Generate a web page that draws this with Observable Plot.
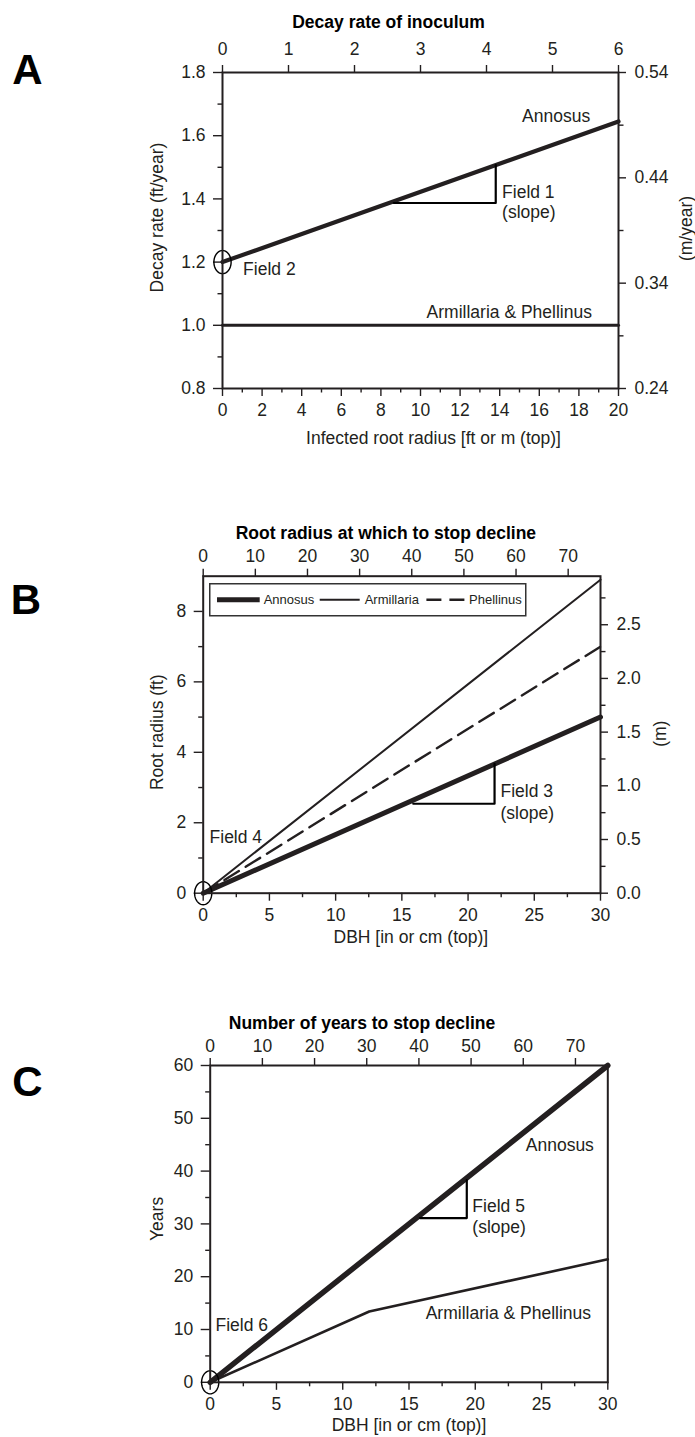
<!DOCTYPE html>
<html>
<head>
<meta charset="utf-8">
<script src="https://cdn.jsdelivr.net/npm/d3@7"></script>
<script src="https://cdn.jsdelivr.net/npm/@observablehq/plot@0.6"></script>
<style>
  html, body { margin: 0; padding: 0; background: #fff; }
  #chart { position: relative; width: 695px; height: 1437px; overflow: hidden; background: #fff; }
  #chart svg { display: block; }
  .legend { position: absolute; }
</style>
</head>
<body>
<div id="chart"></div>
<script>
// ---------- DATA ----------
// Panel A: decay rate of inoculum vs infected root radius
const A_x = [0, 20];
const A_annosus = [1.2, 1.645];
const A_armPhel = [1.0, 1.0];
const A_slopeX = [8.65, 13.8, 13.8];
const A_slopeY = [1.387, 1.387, 1.507];
const A_bottomTicks = [0, 2, 4, 6, 8, 10, 12, 14, 16, 18, 20];
const A_bottomMinor = [1, 3, 5, 7, 9, 11, 13, 15, 17, 19];
const A_leftTicks = [0.8, 1.0, 1.2, 1.4, 1.6, 1.8];
const A_leftMinor = [0.9, 1.1, 1.3, 1.5, 1.7];
const A_topTicks = [0, 1, 2, 3, 4, 5, 6];
const A_rightTicks = [0.24, 0.34, 0.44, 0.54];
const A_rightMinor = [0.29, 0.39, 0.49];
const A_factor = 0.3; // ft -> secondary units

// Panel B: root radius at which to stop decline vs DBH
const B_x = [0, 30];
const B_annosus = [0, 5.0];
const B_armillaria = [0, 8.9];
const B_phellinus = [0, 7.0];
const B_slopeX = [15.86, 22.0, 22.0];
const B_slopeY = [2.54, 2.54, 3.67];
const B_bottomTicks = [0, 5, 10, 15, 20, 25, 30];
const B_bottomMinor = [2.5, 7.5, 12.5, 17.5, 22.5, 27.5];
const B_leftTicks = [0, 2, 4, 6, 8];
const B_leftMinor = [1, 3, 5, 7];
const B_topTicks = [0, 10, 20, 30, 40, 50, 60, 70];
const B_rightTicks = [0, 0.5, 1.0, 1.5, 2.0, 2.5];
const B_rightMinor = [0.25, 0.75, 1.25, 1.75, 2.25, 2.75];
const B_cmPerIn = 2.54;
const B_mPerFt = 0.328;
const B_series = ["Annosus", "Armillaria", "Phellinus"];

// Panel C: number of years to stop decline vs DBH
const C_x = [0, 30];
const C_annosus = [0, 60];
const C_armPhelX = [0, 12, 30];
const C_armPhelY = [0, 13.4, 23.3];
const C_slopeX = [15.83, 19.36, 19.36];
const C_slopeY = [31.1, 31.1, 38.3];
const C_bottomTicks = [0, 5, 10, 15, 20, 25, 30];
const C_bottomMinor = [2.5, 7.5, 12.5, 17.5, 22.5, 27.5];
const C_leftTicks = [0, 10, 20, 30, 40, 50, 60];
const C_leftMinor = [5, 15, 25, 35, 45, 55];
const C_topTicks = [0, 10, 20, 30, 40, 50, 60, 70];
const C_cmPerIn = 2.54;

// ---------- HELPERS ----------
const ink = "#231f20";
const font = "'Liberation Sans', Arial, Helvetica, sans-serif";
const rows = (xs, ys) => xs.map((x, i) => ({x, y: ys[i]}));
const style = {fontFamily: font, fontSize: "17.5px", color: ink, background: "#fff", overflow: "visible"};
const txt = (s, o) => Plot.text([s], {text: d => d, fill: ink, fontSize: 17.5, lineAnchor: "middle", ...o});
const axisLabel = (s, o) => txt(s, {textAnchor: "middle", ...o});

// elliptical symbol for the "Field" origin markers
const ellipseSymbol = {
  draw(ctx, size) {
    const r = Math.sqrt(size / Math.PI), rx = r * 0.82, ry = r * 1.1, n = 48;
    for (let i = 0; i <= n; i++) {
      const a = (i / n) * 2 * Math.PI, px = rx * Math.cos(a), py = ry * Math.sin(a);
      if (i === 0) ctx.moveTo(px, py); else ctx.lineTo(px, py);
    }
    ctx.closePath();
  }
};

function axes({bottom, bottomMinor, left, leftMinor, leftFmt, top, topFmt, topPad = 6, right, rightMinor, rightFmt}) {
  const m = [];
  m.push(Plot.axisX({anchor: "bottom", ticks: bottom, tickSize: 8, tickPadding: 7, tickFormat: d => String(d), label: null, strokeWidth: 1.4}));
  m.push(Plot.axisX({anchor: "bottom", ticks: bottomMinor, tickSize: 4.5, tickFormat: () => "", label: null, strokeWidth: 1.4}));
  m.push(Plot.axisY({anchor: "left", ticks: left, tickSize: 9, tickPadding: 8, tickFormat: leftFmt, label: null, strokeWidth: 1.4}));
  m.push(Plot.axisY({anchor: "left", ticks: leftMinor, tickSize: 4.5, tickFormat: () => "", label: null, strokeWidth: 1.4}));
  if (top) m.push(Plot.axisX({anchor: "top", ticks: top, tickSize: 8, tickPadding: topPad, tickFormat: topFmt, label: null, strokeWidth: 1.4}));
  if (right) m.push(Plot.axisY({anchor: "right", ticks: right, tickSize: 7, tickPadding: 9, tickFormat: rightFmt, label: null, strokeWidth: 1.4}));
  if (rightMinor) m.push(Plot.axisY({anchor: "right", ticks: rightMinor, tickSize: 4.5, tickFormat: () => "", label: null, strokeWidth: 1.4}));
  return m;
}

const letter = (s, dx, dy) => Plot.text([s], {text: d => d, frameAnchor: "top-left", dx, dy, fontSize: 42, fontWeight: "bold", fill: "#000", textAnchor: "middle", lineAnchor: "middle"});
const title = (s, dx, dy) => Plot.text([s], {text: d => d, frameAnchor: "top", dx, dy, fontSize: 17.5, fontWeight: "bold", fill: "#000", textAnchor: "middle", lineAnchor: "middle"});

const chart = document.getElementById("chart");

// ---------- PANEL A ----------
const plotA = Plot.plot({
  width: 695, height: 470,
  marginTop: 72, marginBottom: 82, marginLeft: 222, marginRight: 77,
  x: {domain: [0, 20]}, y: {domain: [0.8, 1.8]},
  style,
  marks: [
    ...axes({
      bottom: A_bottomTicks, bottomMinor: A_bottomMinor,
      left: A_leftTicks, leftMinor: A_leftMinor, leftFmt: d => d.toFixed(1),
      top: A_topTicks.map(v => v / A_factor), topFmt: d => String(Math.round(d * A_factor)), topPad: 10,
      right: A_rightTicks.map(v => v / A_factor), rightMinor: A_rightMinor.map(v => v / A_factor),
      rightFmt: d => (d * A_factor).toFixed(2)
    }),
    Plot.line(rows(A_x, A_armPhel), {x: "x", y: "y", stroke: ink, strokeWidth: 3}),
    Plot.line(rows(A_x, A_annosus), {x: "x", y: "y", stroke: ink, strokeWidth: 4.2}),
    Plot.line(rows(A_slopeX, A_slopeY), {x: "x", y: "y", stroke: "#000", strokeWidth: 2.2}),
    Plot.dot([{x: A_x[0], y: A_annosus[0]}], {x: "x", y: "y", r: 10.5, symbol: ellipseSymbol, stroke: "#000", strokeWidth: 1.4, fill: "none"}),
    Plot.frame({stroke: ink, strokeWidth: 2}),
    txt("Annosus", {x: 18.57, y: 1.662, textAnchor: "end"}),
    txt("Field 1", {x: 14.12, y: 1.422, textAnchor: "start"}),
    txt("(slope)", {x: 14.12, y: 1.358, textAnchor: "start"}),
    txt("Field 2", {x: 1.04, y: 1.177, textAnchor: "start"}),
    txt("Armillaria & Phellinus", {x: 18.66, y: 1.042, textAnchor: "end"}),
    axisLabel("Infected root radius [ft or m (top)]", {frameAnchor: "bottom", dx: 13, dy: 50}),
    axisLabel("Decay rate (ft/year)", {frameAnchor: "left", dx: -65, dy: -13, rotate: -90}),
    axisLabel("(m/year)", {frameAnchor: "right", dx: 68, dy: -2, rotate: -90}),
    title("Decay rate of inoculum", -32, -50),
    letter("A", -195, -2)
  ]
});
chart.appendChild(plotA);

// ---------- PANEL B ----------
const plotB = Plot.plot({
  width: 695, height: 480,
  marginTop: 105.7, marginBottom: 57.3, marginLeft: 202.7, marginRight: 95,
  x: {domain: [0, 30]}, y: {domain: [0, 9]},
  style,
  marks: [
    ...axes({
      bottom: B_bottomTicks, bottomMinor: B_bottomMinor,
      left: B_leftTicks, leftMinor: B_leftMinor, leftFmt: d => String(d),
      top: B_topTicks.map(v => v / B_cmPerIn), topFmt: d => String(Math.round(d * B_cmPerIn)),
      right: B_rightTicks.map(v => v / B_mPerFt), rightMinor: B_rightMinor.map(v => v / B_mPerFt),
      rightFmt: d => (d * B_mPerFt).toFixed(1)
    }),
    Plot.line(rows(B_x, B_armillaria), {x: "x", y: "y", stroke: ink, strokeWidth: 2}),
    Plot.line(rows(B_x, B_phellinus), {x: "x", y: "y", stroke: ink, strokeWidth: 2.4, strokeDasharray: "17,8"}),
    Plot.line(rows(B_x, B_annosus), {x: "x", y: "y", stroke: ink, strokeWidth: 5}),
    Plot.line(rows(B_slopeX, B_slopeY), {x: "x", y: "y", stroke: "#000", strokeWidth: 2.2}),
    Plot.dot([{x: 0, y: 0}], {x: "x", y: "y", r: 10.5, symbol: ellipseSymbol, stroke: "#000", strokeWidth: 1.4, fill: "none"}),
    Plot.frame({stroke: ink, strokeWidth: 2}),
    txt("Field 4", {x: 0.48, y: 1.59, textAnchor: "start"}),
    txt("Field 3", {x: 22.45, y: 2.89, textAnchor: "start"}),
    txt("(slope)", {x: 22.45, y: 2.28, textAnchor: "start"}),
    axisLabel("DBH [in or cm (top)]", {frameAnchor: "bottom", dx: 9, dy: 44}),
    axisLabel("Root radius (ft)", {frameAnchor: "left", dx: -46, dy: -2.5, rotate: -90}),
    axisLabel("(m)", {frameAnchor: "right", dx: 60, dy: -1, rotate: -90}),
    title("Root radius at which to stop decline", -16, -42.4),
    letter("B", -177.2, 24.3)
  ]
});
chart.appendChild(plotB);

// legend for panel B (inside the frame, top-left)
const legendStyles = {
  Annosus: {w: 5, dash: null, x0: 8, x1: 50.7, tx: 54.7},
  Armillaria: {w: 2, dash: null, x0: 110.7, x1: 150.7, tx: 155.7},
  Phellinus: {w: 2.4, dash: "15,8", x0: 217.4, x1: 255.7, tx: 260}
};
const lg = d3.create("svg").attr("class", "legend").attr("width", 318).attr("height", 34)
  .style("left", "209.3px").style("top", (470 + 113.3) + "px");
lg.append("rect").attr("x", 0.75).attr("y", 0.75).attr("width", 316).attr("height", 32)
  .attr("fill", "#fff").attr("stroke", "#333").attr("stroke-width", 1.5);
for (const s of B_series) {
  const st = legendStyles[s];
  lg.append("line").attr("x1", st.x0).attr("x2", st.x1).attr("y1", 16.7).attr("y2", 16.7)
    .attr("stroke", ink).attr("stroke-width", st.w).attr("stroke-dasharray", st.dash);
  lg.append("text").attr("x", st.tx).attr("y", 16.7).attr("dy", "0.35em")
    .attr("font-family", font).attr("font-size", 13).attr("fill", ink).text(s);
}
chart.appendChild(lg.node());

// ---------- PANEL C ----------
const plotC = Plot.plot({
  width: 695, height: 487,
  marginTop: 115, marginBottom: 55.2, marginLeft: 209.7, marginRight: 87.7,
  x: {domain: [0, 30]}, y: {domain: [0, 60]},
  style,
  marks: [
    ...axes({
      bottom: C_bottomTicks, bottomMinor: C_bottomMinor,
      left: C_leftTicks, leftMinor: C_leftMinor, leftFmt: d => String(d),
      top: C_topTicks.map(v => v / C_cmPerIn), topFmt: d => String(Math.round(d * C_cmPerIn))
    }),
    Plot.line(rows(C_armPhelX, C_armPhelY), {x: "x", y: "y", stroke: ink, strokeWidth: 2.6}),
    Plot.line(rows(C_x, C_annosus), {x: "x", y: "y", stroke: ink, strokeWidth: 5.5}),
    Plot.line(rows(C_slopeX, C_slopeY), {x: "x", y: "y", stroke: "#000", strokeWidth: 2.2}),
    Plot.dot([{x: 0, y: 0}], {x: "x", y: "y", r: 10.5, symbol: ellipseSymbol, stroke: "#000", strokeWidth: 1.4, fill: "none"}),
    Plot.frame({stroke: ink, strokeWidth: 2}),
    txt("Annosus", {x: 23.81, y: 44.85, textAnchor: "start"}),
    txt("Field 5", {x: 19.78, y: 33.3, textAnchor: "start"}),
    txt("(slope)", {x: 19.78, y: 29.4, textAnchor: "start"}),
    txt("Armillaria & Phellinus", {x: 16.26, y: 13.1, textAnchor: "start"}),
    txt("Field 6", {x: 0.4, y: 10.76, textAnchor: "start"}),
    axisLabel("DBH [in or cm (top)]", {frameAnchor: "bottom", dx: 0, dy: 43}),
    axisLabel("Years", {frameAnchor: "left", dx: -53, dy: -5, rotate: -90}),
    title("Number of years to stop decline", -47, -42.3),
    letter("C", -182.7, 17)
  ]
});
chart.appendChild(plotC);
</script>
</body>
</html>
